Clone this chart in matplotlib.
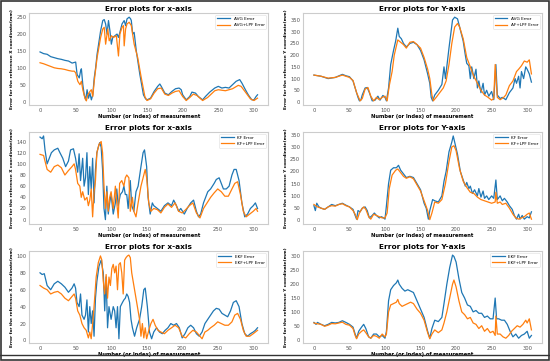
import matplotlib.pyplot as plt
from matplotlib.patches import Rectangle

# ---- panel 1: AVG, x-axis ----
avgx_bx = [0, 5, 10, 15, 20, 25, 30, 35, 40, 45, 50, 52, 55, 57, 58, 60, 62, 64, 66, 68, 70, 72, 74, 76, 78, 80, 85, 88, 90, 92, 94, 96, 98, 100, 102, 105, 108, 110, 112, 115, 118, 120, 122, 125, 127, 128, 130, 132, 135, 140, 145, 148, 150, 155, 160, 165, 168, 170, 175, 180, 185, 190, 195, 198, 200, 205, 210, 213, 218, 222, 225, 228, 232, 238, 245, 250, 255, 260, 265, 270, 275, 280, 283, 288, 292, 297, 300, 303, 305]
avgx_by = [147, 142, 140, 133, 130, 127, 125, 122, 120, 114, 117, 80, 70, 92, 97, 50, 20, 5, 35, 10, 25, 5, 20, 70, 100, 140, 210, 240, 243, 230, 200, 240, 210, 170, 190, 195, 200, 190, 205, 230, 240, 225, 245, 250, 245, 240, 200, 205, 150, 80, 20, 8, 5, 10, 30, 45, 52, 45, 25, 20, 30, 38, 40, 35, 20, 5, 15, 28, 25, 15, 10, 5, 15, 28, 40, 45, 40, 42, 40, 50, 60, 65, 55, 35, 20, 5, 5, 15, 20]
avgx_ox = [0, 5, 10, 15, 20, 25, 30, 35, 40, 45, 48, 50, 53, 56, 58, 60, 63, 65, 67, 70, 72, 74, 76, 80, 85, 88, 90, 92, 95, 97, 100, 103, 107, 110, 112, 115, 117, 118, 120, 122, 125, 128, 132, 137, 142, 147, 150, 155, 160, 165, 170, 175, 180, 185, 190, 195, 200, 205, 210, 215, 220, 228, 235, 240, 245, 250, 260, 270, 278, 282, 288, 295, 300, 305]
avgx_oy = [115, 112, 108, 104, 100, 98, 97, 95, 92, 90, 90, 85, 60, 50, 60, 35, 10, 2, 20, 30, 35, 15, 60, 130, 190, 215, 220, 170, 215, 180, 195, 190, 195, 135, 200, 220, 225, 165, 215, 230, 235, 225, 170, 130, 70, 15, 3, 8, 25, 38, 40, 22, 18, 25, 30, 32, 15, 3, 12, 22, 18, 3, 12, 22, 32, 35, 32, 38, 48, 45, 28, 8, 3, 10]

# ---- panel 2: AVG, Y-axis ----
avgy_bx = [0, 10, 20, 30, 40, 45, 50, 55, 58, 62, 64, 66, 68, 72, 75, 78, 82, 86, 90, 93, 97, 100, 102, 105, 108, 112, 115, 118, 120, 123, 126, 130, 135, 140, 145, 150, 155, 160, 163, 165, 167, 170, 175, 180, 183, 185, 190, 195, 198, 202, 205, 210, 213, 215, 218, 220, 222, 225, 228, 230, 232, 235, 238, 240, 243, 246, 250, 253, 256, 258, 262, 265, 270, 275, 280, 283, 285, 288, 290, 292, 295, 298, 300, 303, 306]
avgy_by = [115, 110, 100, 105, 118, 112, 108, 90, 60, 20, 5, 8, 30, 60, 62, 40, 5, 8, 25, 8, 28, 20, 5, 60, 160, 220, 260, 315, 280, 270, 250, 235, 250, 255, 245, 220, 180, 120, 80, 20, 5, 30, 50, 75, 150, 100, 230, 350, 362, 355, 320, 260, 200, 165, 155, 100, 150, 100, 140, 60, 90, 40, 80, 30, 50, 25, 45, 10, 160, 30, 15, 20, 10, 40, 60, 100, 80, 110, 60, 130, 100, 150, 140, 120, 85]
avgy_ox = [0, 10, 20, 30, 40, 50, 55, 60, 65, 68, 72, 76, 80, 84, 88, 92, 96, 100, 103, 106, 110, 113, 118, 122, 126, 130, 135, 140, 145, 150, 155, 160, 163, 166, 168, 172, 177, 182, 186, 190, 194, 198, 202, 205, 210, 215, 220, 225, 230, 235, 240, 245, 250, 253, 255, 258, 262, 267, 270, 275, 280, 285, 288, 292, 296, 300, 303, 306]
avgy_oy = [115, 110, 102, 105, 115, 105, 92, 40, 5, 15, 55, 62, 25, 5, 20, 10, 20, 25, 5, 70, 130, 200, 265, 255, 245, 230, 255, 258, 245, 230, 190, 140, 100, 30, 5, 20, 40, 60, 90, 160, 250, 320, 335, 320, 270, 190, 150, 110, 80, 50, 30, 20, 8, 15, 160, 20, 10, 20, 30, 70, 90, 130, 140, 155, 175, 170, 180, 120]

# ---- panel 3: KF, x-axis ----
kfx_bx = [0, 3, 5, 7, 10, 13, 16, 20, 25, 28, 32, 36, 40, 43, 47, 50, 53, 55, 57, 60, 62, 64, 66, 68, 70, 72, 74, 76, 78, 80, 82, 84, 86, 88, 90, 92, 94, 96, 98, 100, 103, 106, 108, 110, 113, 116, 118, 120, 122, 124, 127, 129, 132, 135, 138, 142, 145, 147, 150, 152, 155, 158, 160, 165, 170, 175, 180, 185, 188, 192, 195, 198, 203, 207, 212, 216, 220, 223, 226, 230, 233, 236, 240, 245, 248, 252, 255, 258, 262, 266, 270, 273, 276, 280, 284, 288, 292, 296, 300, 303, 306]
kfx_by = [148, 145, 150, 125, 100, 110, 120, 125, 128, 120, 110, 95, 105, 125, 127, 110, 85, 118, 70, 110, 60, 75, 120, 45, 95, 55, 110, 30, 90, 120, 130, 138, 130, 90, 20, 0, 60, 10, 30, 45, 10, 30, 55, 25, 45, 50, 60, 45, 45, 20, 70, 25, 15, 50, 60, 95, 120, 125, 95, 40, 10, 30, 25, 20, 15, 25, 30, 25, 35, 25, 15, 20, 10, 20, 30, 35, 15, 5, 10, 30, 40, 50, 55, 65, 72, 75, 65, 55, 55, 60, 80, 90, 90, 70, 30, 5, 10, 20, 25, 30, 20]
kfx_ox = [0, 5, 10, 15, 20, 25, 30, 35, 40, 45, 48, 50, 53, 56, 58, 60, 63, 66, 68, 70, 72, 74, 76, 78, 80, 83, 86, 88, 90, 92, 94, 96, 98, 100, 103, 106, 108, 110, 112, 115, 118, 120, 122, 125, 127, 130, 132, 135, 138, 142, 146, 148, 150, 153, 156, 160, 165, 170, 175, 180, 185, 190, 195, 200, 205, 210, 215, 220, 225, 230, 235, 240, 245, 250, 255, 260, 265, 270, 274, 278, 282, 286, 290, 295, 300, 304, 306]
kfx_oy = [117, 115, 90, 85, 95, 98, 93, 80, 88, 95, 100, 90, 65, 60, 40, 50, 35, 40, 25, 35, 55, 5, 50, 70, 120, 135, 140, 120, 60, 20, 50, 15, 40, 50, 20, 60, 30, 3, 65, 70, 60, 75, 80, 75, 15, 40, 15, 5, 30, 60, 80, 90, 75, 30, 15, 20, 18, 12, 22, 28, 22, 30, 15, 12, 18, 25, 30, 12, 3, 20, 30, 40, 48, 55, 50, 42, 42, 55, 65, 68, 45, 15, 5, 10, 15, 20, 15]

# ---- panel 4: KF, Y-axis ----
kfy_bx = [0, 2, 4, 7, 10, 15, 20, 25, 30, 35, 40, 45, 50, 55, 58, 60, 62, 65, 68, 72, 75, 78, 82, 85, 88, 92, 95, 98, 100, 102, 105, 108, 112, 116, 119, 122, 126, 130, 135, 140, 145, 150, 155, 158, 161, 163, 167, 170, 175, 180, 183, 186, 190, 194, 196, 198, 202, 206, 210, 213, 215, 218, 220, 223, 226, 230, 232, 235, 238, 240, 243, 246, 250, 253, 256, 258, 262, 265, 268, 272, 275, 279, 282, 285, 288, 290, 293, 296, 300, 303, 306]
kfy_by = [60, 40, 70, 55, 50, 45, 55, 65, 60, 65, 70, 62, 55, 45, 20, 5, 40, 35, 50, 55, 40, 10, 20, 30, 20, 10, 15, 10, 5, 60, 150, 205, 215, 215, 225, 205, 190, 175, 180, 175, 150, 125, 70, 50, 5, 40, 85, 80, 75, 100, 160, 200, 280, 320, 345, 320, 270, 200, 165, 140, 155, 130, 140, 110, 125, 100, 130, 95, 120, 90, 100, 85, 100, 90, 165, 85, 100, 80, 90, 75, 60, 45, 20, 5, 25, 5, 20, 5, 15, 10, 35]
kfy_ox = [0, 5, 10, 15, 20, 25, 30, 35, 40, 45, 50, 55, 58, 61, 64, 67, 70, 73, 77, 80, 84, 88, 92, 96, 100, 103, 106, 110, 115, 118, 122, 126, 130, 135, 140, 145, 150, 155, 160, 163, 166, 170, 175, 180, 185, 190, 194, 197, 200, 205, 210, 215, 220, 225, 230, 235, 240, 245, 250, 255, 256, 258, 262, 265, 270, 275, 280, 284, 288, 292, 296, 300, 303, 306]
kfy_oy = [65, 55, 50, 45, 55, 60, 58, 65, 68, 60, 55, 40, 25, 3, 30, 45, 55, 45, 15, 5, 25, 20, 15, 10, 10, 30, 130, 185, 205, 210, 195, 180, 172, 178, 170, 145, 120, 80, 40, 3, 30, 75, 70, 85, 150, 240, 300, 305, 285, 210, 160, 135, 115, 110, 95, 85, 80, 75, 70, 75, 115, 70, 75, 65, 70, 50, 25, 10, 5, 10, 15, 25, 30, 5]

# ---- panel 5: EKF, x-axis ----
ekfx_bx = [0, 3, 6, 10, 15, 20, 25, 30, 35, 40, 45, 48, 50, 52, 55, 57, 59, 62, 64, 66, 68, 70, 72, 74, 76, 78, 80, 83, 86, 89, 91, 93, 95, 97, 100, 103, 105, 107, 109, 111, 113, 116, 118, 120, 122, 124, 126, 128, 130, 133, 136, 140, 143, 146, 148, 151, 154, 157, 160, 164, 168, 172, 176, 180, 184, 188, 192, 196, 200, 204, 208, 212, 216, 220, 224, 228, 232, 236, 240, 244, 248, 252, 256, 260, 264, 268, 272, 276, 280, 284, 288, 292, 296, 300, 303, 306]
ekfx_by = [80, 78, 79, 65, 60, 67, 70, 67, 63, 57, 62, 67, 62, 45, 40, 55, 30, 25, 30, 48, 10, 40, 20, 35, 5, 50, 70, 88, 95, 80, 35, 75, 15, 40, 25, 40, 35, 15, 40, 2, 40, 45, 48, 50, 55, 52, 45, 25, 15, 5, 15, 25, 40, 60, 62, 40, 10, 2, 10, 15, 10, 8, 12, 15, 20, 18, 20, 15, 3, 8, 15, 18, 15, 8, 5, 10, 20, 25, 30, 35, 38, 37, 32, 30, 28, 35, 45, 47, 40, 20, 8, 5, 8, 10, 12, 15]
ekfx_ox = [0, 5, 10, 15, 20, 25, 30, 35, 40, 45, 48, 50, 53, 56, 59, 62, 65, 68, 70, 72, 74, 76, 79, 82, 85, 87, 89, 91, 93, 95, 97, 99, 101, 103, 105, 107, 109, 111, 113, 115, 117, 119, 121, 123, 125, 127, 129, 131, 134, 137, 140, 142, 144, 146, 148, 150, 153, 156, 159, 162, 166, 170, 175, 180, 185, 190, 195, 200, 205, 210, 215, 220, 225, 228, 232, 236, 240, 245, 250, 255, 260, 265, 270, 274, 278, 282, 286, 290, 295, 300, 303, 306]
ekfx_oy = [65, 62, 60, 55, 57, 58, 55, 50, 47, 52, 55, 50, 35, 30, 20, 15, 12, 3, 10, 2, 20, 40, 75, 92, 100, 95, 70, 55, 78, 50, 75, 65, 85, 90, 80, 88, 60, 90, 92, 80, 55, 95, 98, 100, 101, 98, 80, 70, 55, 40, 25, 5, 20, 3, 15, 2, 12, 20, 25, 18, 12, 10, 8, 12, 15, 18, 15, 5, 3, 8, 12, 10, 5, 2, 10, 12, 15, 18, 22, 20, 18, 18, 22, 30, 32, 25, 12, 5, 5, 8, 10, 12]

# ---- panel 6: EKF, Y-axis ----
ekfy_bx = [0, 3, 5, 10, 15, 20, 25, 30, 35, 40, 45, 50, 55, 58, 60, 63, 67, 70, 73, 77, 80, 84, 88, 92, 96, 100, 102, 105, 108, 112, 116, 118, 120, 124, 128, 132, 136, 140, 145, 150, 155, 160, 163, 166, 170, 175, 180, 183, 187, 191, 195, 197, 200, 204, 208, 212, 216, 220, 224, 228, 232, 236, 240, 244, 248, 252, 255, 257, 260, 264, 268, 272, 276, 280, 284, 288, 292, 296, 300, 303, 306]
ekfy_by = [62, 55, 62, 55, 50, 55, 62, 60, 62, 68, 62, 55, 45, 20, 5, 30, 45, 55, 40, 10, 5, 20, 20, 10, 15, 5, 30, 140, 180, 195, 205, 215, 200, 185, 175, 180, 175, 170, 140, 110, 80, 30, 5, 40, 70, 65, 80, 130, 200, 260, 305, 300, 280, 220, 170, 150, 125, 120, 100, 105, 95, 95, 80, 85, 75, 75, 150, 75, 75, 70, 70, 55, 30, 10, 20, 5, 15, 20, 30, 5, 15]
ekfy_ox = [0, 5, 10, 15, 20, 25, 30, 35, 40, 45, 50, 55, 58, 60, 63, 67, 70, 73, 77, 80, 84, 88, 92, 96, 100, 102, 105, 108, 112, 116, 118, 120, 124, 128, 132, 136, 140, 145, 150, 155, 160, 163, 166, 170, 175, 180, 183, 187, 191, 195, 197, 200, 204, 208, 212, 216, 220, 224, 228, 232, 236, 240, 244, 248, 252, 255, 256, 258, 262, 266, 270, 274, 278, 282, 286, 290, 294, 298, 300, 303, 306]
ekfy_oy = [60, 57, 55, 48, 52, 58, 57, 60, 63, 55, 52, 40, 15, 3, 20, 30, 35, 25, 10, 5, 15, 12, 5, 20, 10, 20, 100, 125, 130, 135, 145, 130, 120, 125, 130, 135, 130, 110, 95, 70, 25, 3, 20, 35, 25, 35, 60, 100, 150, 200, 215, 190, 140, 100, 90, 75, 80, 60, 55, 40, 50, 30, 40, 25, 30, 15, 85, 20, 20, 10, 5, 15, 30, 40, 50, 45, 55, 70, 60, 75, 35]

panels = [
    ("Error plots for x-axis", "Error for the reference X coordinate(mm)",
     avgx_bx, avgx_by, "AVG Error", avgx_ox, avgx_oy, "AVG+LPF Error", [0, 50, 100, 150, 200, 250]),
    ("Error plots for Y-axis", "Error for the reference Y coordinate(mm)",
     avgy_bx, avgy_by, "AVG Error", avgy_ox, avgy_oy, "AF+LPF Error", [0, 50, 100, 150, 200, 250, 300, 350]),
    ("Error plots for x-axis", "Error for the reference X coordinate(mm)",
     kfx_bx, kfx_by, "KF Error", kfx_ox, kfx_oy, "KF+LPF Error", [0, 20, 40, 60, 80, 100, 120, 140]),
    ("Error plots for Y-axis", "Error for the reference Y coordinate(mm)",
     kfy_bx, kfy_by, "KF Error", kfy_ox, kfy_oy, "KF+LPF Error", [0, 50, 100, 150, 200, 250, 300, 350]),
    ("Error plots for x-axis", "Error for the reference X coordinate(mm)",
     ekfx_bx, ekfx_by, "EKF Error", ekfx_ox, ekfx_oy, "EKF+LPF Error", [0, 20, 40, 60, 80, 100]),
    ("Error plots for Y-axis", "Error for the reference Y coordinate(mm)",
     ekfy_bx, ekfy_by, "EKF Error", ekfy_ox, ekfy_oy, "EKF+LPF Error", [0, 50, 100, 150, 200, 250, 300]),
]

fig = plt.figure(figsize=(5.5, 3.61), dpi=100)
lefts = [0.053, 0.551]
bottoms = [0.709, 0.380, 0.050]

for i, (title, ylab, bx, by, blab, ox, oy, olab, yt) in enumerate(panels):
    ax = fig.add_axes([lefts[i % 2], bottoms[i // 2], 0.435, 0.255])
    ax.plot(bx, by, color="#1f77b4", lw=0.9, label=blab)
    ax.plot(ox, oy, color="#ff7f0e", lw=0.9, label=olab)
    ax.set_xticks([0, 50, 100, 150, 200, 250, 300])
    ax.set_yticks(yt)
    ax.tick_params(labelsize=3.8, length=0, pad=2, colors="#555555")
    for s in ax.spines.values():
        s.set_color("#cccccc")
        s.set_linewidth(0.8)
    ax.set_title(title, fontsize=5.3, fontweight="bold", pad=1.5)
    ax.set_xlabel("Number (or Index) of measurement", fontsize=3.7, fontweight="bold", labelpad=1)
    ax.set_ylabel(ylab, fontsize=3.1, fontweight="bold", labelpad=2)
    leg = ax.legend(loc="upper right", fontsize=3.1, handlelength=3, frameon=True)
    leg.get_frame().set_edgecolor("#dddddd")
    leg.get_frame().set_linewidth(0.5)

fig.patches.append(Rectangle((0.002, 0.004), 0.996, 0.993, transform=fig.transFigure,
                             fill=False, edgecolor="#333333", lw=1.2))
fig.add_artist(plt.Line2D([0, 1], [0.017, 0.017], color="#333333", lw=1.0))

fig.savefig("out.png", dpi=100)
